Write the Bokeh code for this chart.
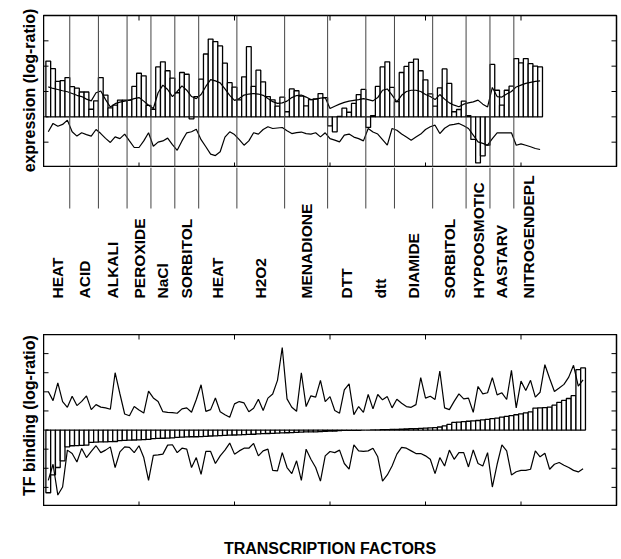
import numpy as np
from bokeh.plotting import figure
from bokeh.models import Range1d, Span, ColumnDataSource
from bokeh.layouts import column, row
from bokeh.embed import file_html
from bokeh.resources import INLINE
from bokeh.core.properties import value

# ---------------- data ----------------
conditions = ["HEAT", "ACID", "ALKALI", "PEROXIDE", "NaCl", "SORBITOL", "HEAT", "H2O2",
              "MENADIONE", "DTT", "dtt", "DIAMIDE", "SORBITOL", "HYPOOSMOTIC", "AASTARV",
              "NITROGENDEPL"]
group_sizes = [5, 6, 6, 5, 5, 5, 8, 10, 9, 8, 6, 8, 7, 5, 5, 6]

expression = [
    2.2, 1.9, 1.4, 1.43, 1.55,
    1.19, 1.13, 0.98, 0.98, 0.3, 0.63,
    1.55, 0.86, 0.35, 0.46, 0.66, 0.66,
    0.66, 1.2, 1.72, 1.62, 0.45,
    0.3, 1.97, 2.17, 1.82, 1.53,
    0.95, 1.75, 1.68, -0.08, 0.8,
    1.49, 2.48, 3.07, 2.97, 2.8, 2.12, 1.35, 1.17,
    0.67, 1.58, 2.77, 1.2, 1.84, 1.38, 0.8, 0.67, 0.42, 0.78,
    0.2, 1.1, 1.03, 0.82, 0.43, 0.68, 0.71, 0.92, 0.76,
    -0.36, -0.59, 0.02, 0.34, 0.18, 0.53, 0.88, 1.08,
    -0.42, 0.05, 1.2, 1.97, 2.17, 1.16,
    0.6, 1.75, 1.99, 2.15, 2.28, 1.82, 1.46, 0.91,
    0.42, 1.14, 1.89, 1.32, 0.2, 0.29, 0.62,
    0.05, -0.89, -1.82, -1.54, -1.12,
    2.07, 1.05, 0.46, 1.05, 1.21,
    2.3, 2.13, 2.3, 2.1, 2.0, 1.97,
]

expression_fit = [
    1.18, 1.12, 1.08, 1.03, 0.99, 0.92, 0.85, 0.80, 0.70, 0.63,
    0.95, 1.02, 0.68, 0.39, 0.52, 0.58, 0.62, 0.66, 0.72, 0.76,
    0.62, 0.46, 0.33, 0.95, 1.25, 1.08, 0.80, 1.00, 1.22, 1.05,
    0.80, 0.72, 0.88, 1.20, 1.47, 1.42, 1.34, 1.10, 0.85, 0.65,
    0.72, 0.86, 0.90, 0.92, 0.90, 0.85, 0.72, 0.60, 0.53, 0.55,
    0.62, 0.76, 0.84, 0.86, 0.78, 0.68, 0.70, 0.74, 0.76, 0.33,
    0.42, 0.50, 0.57, 0.62, 0.65, 0.68, 0.72, 0.68, 0.63, 0.76,
    1.05, 1.10, 0.86, 0.59, 0.85, 1.00, 1.05, 1.05, 1.00, 0.88,
    0.80, 0.68, 0.88, 0.70, 0.55, 0.46, 0.40, 0.50, 0.55, 0.59,
    0.66, 0.50, 0.39, 1.16, 0.80, 0.78, 0.90, 1.00, 1.18, 1.25,
    1.32, 1.36, 1.40, 1.42,
]

expression_low = [
    -0.59, -0.26, -0.37, -0.30, -0.13, -0.59, -0.76, -0.63, -0.70, -0.76,
    -0.50, -0.66, -0.85, -1.01, -0.79, -0.86, -0.68, -0.95, -1.21, -1.21,
    -0.95, -0.63, -1.16, -1.00, -0.95, -0.84, -1.10, -1.32, -0.95, -0.63,
    -0.59, -0.49, -0.90, -1.18, -1.47, -1.53, -1.38, -0.80, -0.59, -0.70,
    -0.90, -1.12, -0.95, -0.63, -0.68, -0.50, -0.39, -0.46, -0.44, -0.42,
    -0.55, -0.66, -0.62, -0.60, -0.66, -0.68, -0.63, -0.79, -0.63, -0.86,
    -0.92, -0.99, -0.72, -0.68, -0.80, -0.86, -0.95, -0.46, -0.60, -0.68,
    -0.90, -1.12, -0.46, -0.53, -0.68, -0.80, -0.92, -0.80, -0.68, -0.50,
    -0.39, -0.33, -0.66, -0.45, -0.33, -0.30, -0.26, -0.35, -0.46, -0.72,
    -0.99, -1.05, -1.12, -0.86, -0.63, -0.63, -0.63, -0.63, -1.12, -1.07,
    -1.12, -1.18, -1.25, -1.29,
]

tf_binding = [
    -3.28, -2.35, -1.96, -1.61, -0.88, -0.82, -0.81, -0.80, -0.79, -0.64,
    -0.63, -0.62, -0.62, -0.61, -0.60, -0.55, -0.54, -0.53, -0.52, -0.51,
    -0.50, -0.49, -0.45, -0.44, -0.43, -0.42, -0.41, -0.38, -0.37, -0.36,
    -0.35, -0.35, -0.34, -0.33, -0.31, -0.30, -0.29, -0.28, -0.27, -0.26,
    -0.25, -0.24, -0.23, -0.22, -0.20, -0.19, -0.18, -0.17, -0.16, -0.15,
    -0.14, -0.13, -0.12, -0.11, -0.10, -0.10, -0.09, -0.08, -0.07, -0.06,
    -0.05, -0.03, -0.02, -0.02, -0.01, -0.01, 0.0, 0.0, 0.01, 0.01,
    0.02, 0.02, 0.03, 0.04, 0.05, 0.06, 0.07, 0.08, 0.09, 0.10,
    0.11, 0.13, 0.16, 0.22, 0.30, 0.40, 0.42, 0.44, 0.46, 0.48,
    0.50, 0.53, 0.56, 0.60, 0.62, 0.68, 0.72, 0.76, 0.80, 0.85,
    0.90, 0.95, 1.15, 1.16, 1.17, 1.20, 1.30, 1.45, 1.55, 1.65,
    1.80, 3.16, 3.25,
]

tf_upper = [
    2.02, 1.54, 2.47, 1.49, 1.19, 1.77, 1.28, 1.50, 1.79, 1.07,
    1.33, 1.20, 1.16, 1.09, 3.00, 1.90, 0.84, 0.75, 1.23, 1.05,
    0.89, 2.04, 1.68, 1.49, 0.96, 0.93, 0.91, 0.88, 1.11, 1.16,
    0.93, 1.60, 2.37, 0.98, 1.07, 1.68, 0.96, 0.80, 0.67, 1.37,
    1.49, 1.42, 0.96, 1.14, 1.61, 1.02, 1.67, 1.89, 2.60, 4.32,
    1.63, 1.19, 0.98, 3.00, 1.23, 1.79, 1.72, 2.60, 1.49, 1.75,
    1.02, 0.88, 2.10, 2.42, 0.81, 1.23, 0.93, 1.86, 1.11, 1.86,
    1.58, 1.75, 1.16, 1.61, 1.40, 1.23, 1.19, 1.33, 2.74, 1.67,
    1.77, 1.60, 3.09, 1.16, 1.07, 1.50, 1.89, 1.63, 1.67, 0.93,
    2.28, 1.89, 1.95, 2.74, 1.84, 1.95, 1.60, 3.12, 1.16, 2.56,
    2.07, 2.60, 1.72, 1.98, 3.42, 2.70, 2.02, 2.20, 2.39, 2.77,
    3.39, 2.30, 2.62,
]

tf_lower = [
    -2.63, -1.79, -3.40, -2.98, -1.05, -1.23, -1.67, -0.96, -1.44, -1.12,
    -0.82, -1.18, -1.05, -0.88, -1.96, -1.14, -0.88, -0.91, -1.18, -0.82,
    -1.44, -2.63, -1.32, -1.30, -1.26, -0.79, -0.77, -1.18, -0.95, -1.00,
    -1.96, -1.44, -2.32, -1.12, -1.12, -1.75, -1.35, -1.05, -0.68, -1.26,
    -1.09, -0.95, -0.95, -0.70, -1.35, -1.09, -1.00, -2.11, -2.14, -1.18,
    -1.96, -2.28, -1.61, -2.63, -1.00, -1.53, -1.96, -2.67, -1.35, -1.12,
    -1.18, -1.05, -1.75, -2.05, -0.77, -1.09, -1.12, -1.09, -0.95, -1.40,
    -2.67, -2.35, -1.88, -1.26, -0.91, -0.95, -1.09, -1.23, -1.23, -1.35,
    -1.53, -2.28, -1.44, -1.88, -1.05, -1.53, -1.18, -1.18, -1.93, -1.04,
    -1.75, -1.88, -1.18, -2.98, -1.79, -0.77, -1.09, -2.35, -2.18, -2.11,
    -2.11, -2.05, -1.09, -1.40, -1.21, -2.05, -1.79, -1.70, -1.84, -1.96,
    -2.11, -2.19, -2.02,
]

x_ticks = [20, 40, 60, 80, 100]
expr_y_ticks = [-1, 0, 1, 2, 3]
tf_y_ticks = [-3, -2, -1, 0, 1, 2, 3, 4]

y_label_top = "expression (log-ratio)"
y_label_bottom = "TF binding (log-ratio)"
x_label = "TRANSCRIPTION FACTORS"

# ---------------- derived ----------------
expr_x = np.arange(1, len(expression) + 1)
tf_x = np.arange(1, len(tf_binding) + 1)
ends = np.cumsum(group_sizes)
starts = ends - np.array(group_sizes) + 1
separators = (ends[:-1] + 0.5).tolist()
label_x = ((starts + ends) / 2.0).tolist()

FONT = value("Liberation Sans")
LEFT_W = 43
MAIN_W = 578
X_MAX = 120


def bare_fig(width, height, xr, yr, **borders):
    p = figure(width=width, height=height, x_range=xr, y_range=yr,
               output_backend="svg", toolbar_location=None,
               x_axis_location=None, y_axis_location=None,
               min_border_left=borders.get("left", 0), min_border_right=borders.get("right", 0),
               min_border_top=borders.get("top", 0), min_border_bottom=borders.get("bottom", 0))
    p.xgrid.visible = False
    p.ygrid.visible = False
    p.outline_line_color = None
    p.background_fill_color = "white"
    p.border_fill_color = "white"
    return p


def add_inner_ticks(p, y_lo, y_hi, yticks):
    # inward tick marks on all four sides (half of each dash is clipped by the frame)
    n_x = len(x_ticks)
    p.scatter(x=x_ticks * 2, y=[y_lo] * n_x + [y_hi] * n_x, marker="dash", size=10,
              angle=np.pi / 2, line_color="black", line_width=1)
    n_y = len(yticks)
    p.scatter(x=[0] * n_y + [X_MAX] * n_y, y=yticks * 2, marker="dash", size=10,
              line_color="black", line_width=1)


# ---------------- left column with the y titles ----------------
lab = bare_fig(LEFT_W, 559, Range1d(0, LEFT_W), Range1d(0, 559))
lab.text(x=[29, 29], y=[469, 144], text=[y_label_top, y_label_bottom], angle=np.pi / 2,
         text_align="center", text_baseline="alphabetic", text_font=FONT,
         text_font_style="bold", text_font_size="16px", text_color="black")

# ---------------- top panel: expression ----------------
p1 = bare_fig(MAIN_W, 167, Range1d(0, X_MAX), Range1d(-2, 4), top=15, right=5)
p1.outline_line_color = "black"
p1.outline_line_width = 1.5
src1 = ColumnDataSource(dict(x=expr_x, top=expression, fit=expression_fit, low=expression_low))
p1.vbar(x="x", top="top", bottom=0, width=1.0, source=src1,
        fill_color="white", line_color="black", line_width=1.3)
p1.line(x="x", y="fit", source=src1, line_color="black", line_width=1.2)
p1.line(x="x", y="low", source=src1, line_color="black", line_width=1.2)
for s in separators:
    p1.add_layout(Span(location=s, dimension="height", line_color="#444444", line_width=1))
add_inner_ticks(p1, -2, 4, expr_y_ticks)

# ---------------- middle: condition labels ----------------
p2 = bare_fig(MAIN_W, 167, p1.x_range, Range1d(0, 167), right=5)
p2.segment(x0=separators, y0=126, x1=separators, y1=167, line_color="#444444", line_width=1)
p2.text(x=label_x, y=[36] * len(label_x), text=conditions, angle=np.pi / 2,
        text_align="left", text_baseline="middle", text_font=FONT,
        text_font_style="bold", text_font_size="15.5px", text_color="black")

# ---------------- bottom panel: TF binding ----------------
p3 = bare_fig(MAIN_W, 172, Range1d(0, X_MAX), Range1d(-4, 5))
p3.outline_line_color = "black"
p3.outline_line_width = 1.5
src3 = ColumnDataSource(dict(x=tf_x, top=tf_binding, up=tf_upper, low=tf_lower))
p3.vbar(x="x", top="top", bottom=0, width=1.0, source=src3,
        fill_color="white", line_color="black", line_width=1.3)
p3.line(x="x", y="up", source=src3, line_color="black", line_width=1.2)
p3.line(x="x", y="low", source=src3, line_color="black", line_width=1.2)
add_inner_ticks(p3, -4, 5, tf_y_ticks)

# ---------------- x title ----------------
p4 = bare_fig(MAIN_W, 53, Range1d(0, 1), Range1d(0, 53))
p4.text(x=[0.5], y=[11], text=[x_label], text_align="center", text_baseline="middle",
        text_font=FONT, text_font_style="bold", text_font_size="16px", text_color="black")

layout = row(lab, column(p1, p2, p3, p4, spacing=0), spacing=0)
open("out.html", "w").write(file_html(layout, INLINE))
